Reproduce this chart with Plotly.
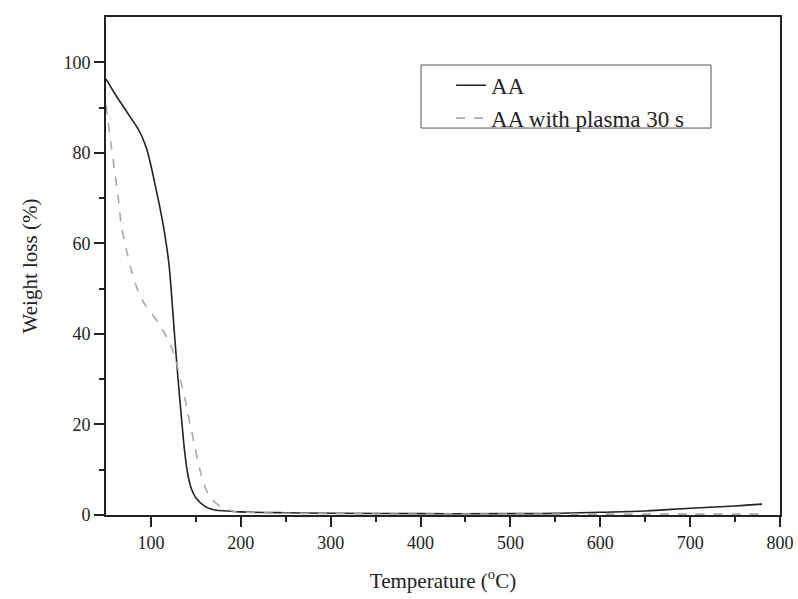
import plotly.graph_objects as go

# AA (untreated)
aa_temp = [50, 60, 70, 80, 85, 90, 95, 100, 105, 110, 115, 120, 123, 126, 129, 132,
           135, 138, 141, 145, 150, 160, 171, 185, 200, 250, 300, 400, 500, 550,
           600, 650, 700, 750, 780]
aa_loss = [96.3, 93.0, 90.0, 87.0, 85.5, 83.6, 81.0, 77.2, 72.6, 67.9, 62.5, 55.5,
           48.5, 40.5, 32.8, 25.8, 19.2, 13.2, 9.0, 5.8, 3.8, 1.9, 1.1, 0.9, 0.7,
           0.5, 0.4, 0.3, 0.3, 0.35, 0.6, 0.9, 1.5, 2.0, 2.4]

# AA with plasma 30 s
pl_temp = [50, 52, 56, 60, 64, 67, 73, 78, 86, 93, 101, 108, 115, 123, 128, 132,
           137, 141, 145, 149, 156, 161, 166, 173, 180, 193, 220, 300, 400, 500,
           600, 700, 780]
pl_loss = [90.5, 87.5, 81.3, 75.4, 69.5, 64.0, 58.3, 54.2, 49.3, 46.6, 44.5, 42.5,
           40.2, 37.0, 34.0, 30.5, 26.5, 22.4, 18.8, 15.0, 8.8, 5.8, 3.9, 2.5,
           1.6, 0.8, 0.5, 0.3, 0.2, 0.2, 0.2, 0.2, 0.2]

x_ticks = [100, 200, 300, 400, 500, 600, 700, 800]
x_minor = [150, 250, 350, 450, 550, 650, 750]
y_ticks = [0, 20, 40, 60, 80, 100]
y_minor = [10, 30, 50, 70, 90]

FONT = "Liberation Serif"
INK = "#222222"

fig = go.Figure()
fig.add_trace(go.Scatter(x=aa_temp, y=aa_loss, mode="lines", name="AA",
                         line=dict(color=INK, width=1.6, shape="spline", smoothing=1.0)))
fig.add_trace(go.Scatter(x=pl_temp, y=pl_loss, mode="lines", name="AA with plasma 30 s",
                         line=dict(color="#a8a8a8", width=1.6, dash="dash", shape="spline", smoothing=0.8)))

axis_common = dict(
    showgrid=False, zeroline=False, showline=True, linecolor=INK, linewidth=2,
    mirror=True, ticks="outside", ticklen=10, tickwidth=2, tickcolor=INK,
    tickfont=dict(family=FONT, size=18, color=INK), ticklabeloverflow="allow",
)

fig.update_xaxes(
    range=[50, 800], tickvals=x_ticks,
    minor=dict(tickvals=x_minor, ticks="outside", ticklen=5, tickwidth=2, tickcolor=INK),
    title=dict(text="Temperature (<sup>o</sup>C)", font=dict(family=FONT, size=21, color=INK), standoff=22),
    **axis_common,
)
fig.update_yaxes(
    range=[0, 110], tickvals=y_ticks,
    minor=dict(tickvals=y_minor, ticks="outside", ticklen=5, tickwidth=2, tickcolor=INK),
    title=dict(text="Weight loss (%)", font=dict(family=FONT, size=21, color=INK), standoff=20),
    **axis_common,
)

# legend frame
fig.add_shape(type="rect", xref="paper", yref="paper",
              x0=0.4674, x1=0.8976, y0=0.777, y1=0.9036,
              line=dict(color="#555555", width=1), fillcolor="rgba(0,0,0,0)")

fig.update_layout(
    width=798, height=599,
    margin=dict(l=106, r=18, t=17, b=84, autoexpand=False),
    paper_bgcolor="white", plot_bgcolor="white",
    font=dict(family=FONT, color=INK),
    legend=dict(
        x=0.512, y=0.906, xanchor="left", yanchor="top",
        borderwidth=0, bgcolor="rgba(255,255,255,0)",
        font=dict(family=FONT, size=23, color=INK),
        tracegroupgap=0,
    ),
    showlegend=True,
)

fig.write_html("out.html")
